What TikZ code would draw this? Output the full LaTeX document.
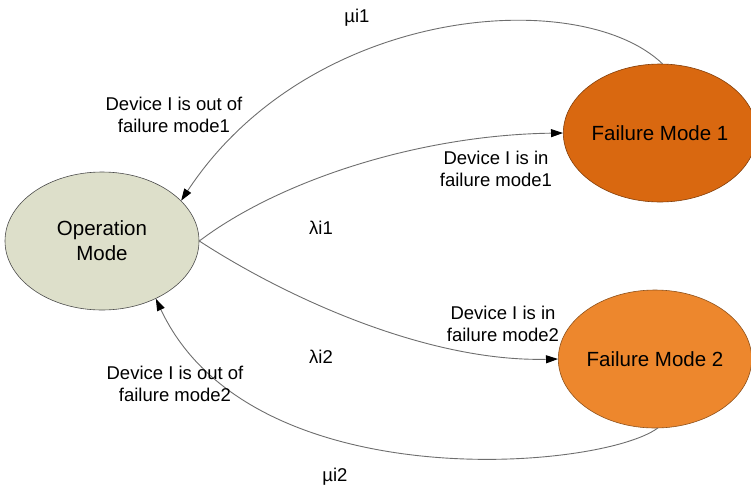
\documentclass[tikz,border=0pt]{standalone}
\usepackage{fontspec}
\setmainfont{Liberation Sans}
\usetikzlibrary{arrows.meta,shapes.geometric}
\definecolor{opfill}{RGB}{221,223,202}
\definecolor{fmone}{RGB}{217,104,16}
\definecolor{fmtwo}{RGB}{237,135,45}
\definecolor{edgegray}{RGB}{110,110,110}
\tikzset{
  mode/.style={ellipse, draw=#1!60!black, line width=0.6pt, inner sep=0pt,
    minimum width=182pt, minimum height=138pt, align=center,
    font=\fontsize{20.5}{25}\selectfont},
  trans/.style={draw=edgegray, line width=0.9pt, -{Triangle[length=12pt,width=8pt,color=black]}},
  lbl/.style={align=center, font=\fontsize{18.5}{22}\selectfont, inner sep=0pt},
}
\begin{document}
\begin{tikzpicture}[x=1pt,y=-1pt, line join=round, line cap=round]
  \useasboundingbox (0,0) rectangle (751,493);
  % states
  \node[mode=gray, fill=opfill, minimum width=194pt] (om) at (102,241) {Operation\\Mode};
  \node[mode=fmone, fill=fmone] (fm1) at (660,133) {Failure Mode 1};
  \node[mode=fmtwo, fill=fmtwo] (fm2) at (655,359) {Failure Mode 2};
  % transitions
  \draw[trans] (fm1.88) .. controls (580,-15) and (310,5) .. (om.27);
  \draw[trans] (om.east) .. controls (280,180) and (420,135) .. (fm1.west);
  \draw[trans] (om.east) .. controls (290,300) and (430,362) .. (fm2.west);
  \draw[trans] (fm2.272) .. controls (600,470) and (250,500) .. (om.-47);
  % rates and labels
  \node[lbl] (mu1) at (357,18) {µi1};
  \node[lbl] (outone) at (174,115) {Device I is out of\\failure mode1};
  \node[lbl] (inone) at (496,169) {Device I is in\\failure mode1};
  \node[lbl] (lam1) at (321,228) {λi1};
  \node[lbl] (intwo) at (503,324) {Device I is in\\failure mode2};
  \node[lbl] (lam2) at (321,357) {λi2};
  \node[lbl] (outtwo) at (175,384) {Device I is out of\\failure mode2};
  \node[lbl] (mu2) at (335,477) {µi2};
\end{tikzpicture}
\end{document}
